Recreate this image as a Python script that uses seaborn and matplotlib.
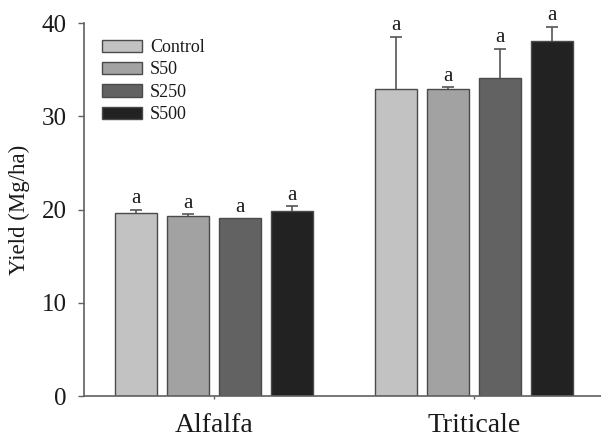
import numpy as np
import pandas as pd
import matplotlib
matplotlib.use("Agg")
import matplotlib.pyplot as plt
import seaborn as sns

# Data: mean yield and standard error per crop and treatment
crops = ["Alfalfa", "Triticale"]
treatments = ["Control", "S50", "S250", "S500"]
alfalfa_yield = [19.65, 19.3, 19.1, 19.85]
alfalfa_se = [0.35, 0.2, 0.0, 0.5]
triticale_yield = [32.95, 32.9, 34.1, 38.1]
triticale_se = [5.6, 0.2, 3.15, 1.5]
letters = ["a", "a", "a", "a", "a", "a", "a", "a"]
colors = ["#c2c2c2", "#a2a2a2", "#626262", "#222222"]
y_ticks = [0, 10, 20, 30, 40]

rows = []
for crop, ys, ses in [("Alfalfa", alfalfa_yield, alfalfa_se),
                      ("Triticale", triticale_yield, triticale_se)]:
    for t, y, s in zip(treatments, ys, ses):
        rows.append({"crop": crop, "treatment": t, "yield": y, "se": s})
df = pd.DataFrame(rows)

sns.set_theme(style="ticks")
plt.rcParams["font.family"] = ["Liberation Serif", "DejaVu Serif"]

fig = plt.figure(figsize=(6.01, 4.40), dpi=100)
ax = fig.add_axes([84 / 601, 0.1, 1 - 84 / 601, 0.8477])

sns.barplot(data=df, x="crop", y="yield", hue="treatment", order=crops,
            hue_order=treatments, palette=colors, errorbar=None,
            gap=0.2, edgecolor="#4a4a4a", linewidth=1.0, ax=ax,
            saturation=1.0)

# Upper-only error bars (stem + top cap) and significance letters
bars = sorted([p for p in ax.patches if p.get_height() > 0],
              key=lambda p: p.get_x())
k = 0
for crop in crops:
    sub = df[df.crop == crop]
    for t in treatments:
        rec = sub[sub.treatment == t].iloc[0]
        x = bars[k].get_x() + bars[k].get_width() / 2
        y, s = rec["yield"], rec["se"]
        if s > 0:
            ax.vlines(x, y, y + s, color="#555555", linewidth=1.2, zorder=3)
            ax.plot([x], [y + s], marker="_", markersize=8, mew=1.2,
                    color="#555555", zorder=3)
        ax.annotate(letters[k], (x, y + s), xytext=(0, 1),
                    textcoords="offset points", ha="center", va="bottom",
                    fontsize=15, color="#1a1a1a")
        k += 1

ax.set_xlim(-0.5, (601 - 214) / 260)
ax.set_ylim(0, 40)
ax.set_yticks(y_ticks)
ax.set_xlabel("")
ax.set_ylabel("Yield (Mg/ha)", fontsize=16.5, color="#1a1a1a")
ax.yaxis.set_label_coords(-0.104, 0.5)

for side in ["top", "right"]:
    ax.spines[side].set_visible(False)
for side in ["left", "bottom"]:
    ax.spines[side].set_color("#606060")
    ax.spines[side].set_linewidth(1.2)

ax.tick_params(axis="y", length=4.5, width=1.0, color="#606060",
               labelsize=18, pad=8, labelcolor="#1a1a1a")
ax.tick_params(axis="x", length=2.5, width=1.0, color="#606060",
               labelsize=20, pad=10, labelcolor="#1a1a1a")

handles, labels = ax.get_legend_handles_labels()
leg = ax.legend(handles, labels, loc="upper left",
                bbox_to_anchor=(102 / 601, 1 - 39 / 440),
                bbox_transform=fig.transFigure, frameon=False,
                fontsize=13, handlelength=2.2, handleheight=0.65,
                handletextpad=0.45, labelspacing=0.3, borderaxespad=0,
                borderpad=0)
for h in leg.legend_handles:
    h.set_edgecolor("#4a4a4a")
for txt in leg.get_texts():
    txt.set_color("#1a1a1a")

fig.savefig("out.png", dpi=100)
